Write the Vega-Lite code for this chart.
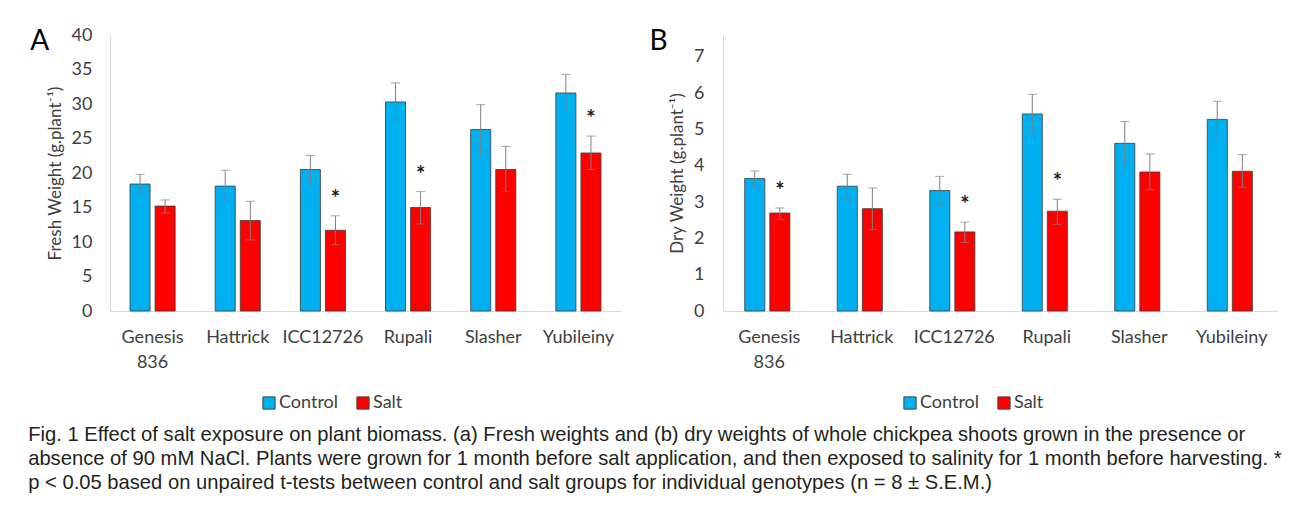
{
  "$schema": "https://vega.github.io/schema/vega-lite/v6.json",
  "padding": {"left": 28, "top": 26, "right": 5, "bottom": 0},
  "background": "white",
  "config": {
    "view": {"stroke": null},
    "font": "Lato",
    "axis": {
      "labelFont": "Lato",
      "labelColor": "#404040",
      "titleFont": "Lato",
      "titleColor": "#404040",
      "titleFontWeight": "normal",
      "domainColor": "#d9d9d9",
      "domainWidth": 1,
      "ticks": false,
      "grid": false,
      "labelOverlap": false
    },
    "legend": {
      "labelFont": "Lato",
      "labelColor": "#404040",
      "labelFontSize": 18,
      "symbolType": "square",
      "symbolSize": 150,
      "symbolStrokeColor": "#404040",
      "symbolStrokeWidth": 1,
      "labelOffset": 1,
      "columnPadding": 15
    }
  },
  "datasets": {
    "fresh": [
      {"genotype": "Genesis 836", "treatment": "Control", "mean": 18.4, "lo": 17.0, "hi": 19.8, "sig": ""},
      {"genotype": "Genesis 836", "treatment": "Salt", "mean": 15.2, "lo": 14.2, "hi": 16.1, "sig": ""},
      {"genotype": "Hattrick", "treatment": "Control", "mean": 18.1, "lo": 15.9, "hi": 20.4, "sig": ""},
      {"genotype": "Hattrick", "treatment": "Salt", "mean": 13.1, "lo": 10.3, "hi": 15.9, "sig": ""},
      {"genotype": "ICC12726", "treatment": "Control", "mean": 20.5, "lo": 18.45, "hi": 22.55, "sig": ""},
      {"genotype": "ICC12726", "treatment": "Salt", "mean": 11.7, "lo": 9.6, "hi": 13.8, "sig": "*"},
      {"genotype": "Rupali", "treatment": "Control", "mean": 30.3, "lo": 27.8, "hi": 33.05, "sig": ""},
      {"genotype": "Rupali", "treatment": "Salt", "mean": 15.0, "lo": 12.6, "hi": 17.3, "sig": "*"},
      {"genotype": "Slasher", "treatment": "Control", "mean": 26.3, "lo": 22.6, "hi": 29.9, "sig": ""},
      {"genotype": "Slasher", "treatment": "Salt", "mean": 20.5, "lo": 17.3, "hi": 23.85, "sig": ""},
      {"genotype": "Yubileiny", "treatment": "Control", "mean": 31.6, "lo": 28.9, "hi": 34.3, "sig": ""},
      {"genotype": "Yubileiny", "treatment": "Salt", "mean": 22.9, "lo": 20.5, "hi": 25.35, "sig": "*"}
    ],
    "dry": [
      {"genotype": "Genesis 836", "treatment": "Control", "mean": 3.65, "lo": 3.41, "hi": 3.86, "sig": ""},
      {"genotype": "Genesis 836", "treatment": "Salt", "mean": 2.70, "lo": 2.52, "hi": 2.84, "sig": "*"},
      {"genotype": "Hattrick", "treatment": "Control", "mean": 3.44, "lo": 3.09, "hi": 3.77, "sig": ""},
      {"genotype": "Hattrick", "treatment": "Salt", "mean": 2.82, "lo": 2.25, "hi": 3.39, "sig": ""},
      {"genotype": "ICC12726", "treatment": "Control", "mean": 3.32, "lo": 2.94, "hi": 3.71, "sig": ""},
      {"genotype": "ICC12726", "treatment": "Salt", "mean": 2.18, "lo": 1.89, "hi": 2.45, "sig": "*"},
      {"genotype": "Rupali", "treatment": "Control", "mean": 5.43, "lo": 4.90, "hi": 5.97, "sig": ""},
      {"genotype": "Rupali", "treatment": "Salt", "mean": 2.75, "lo": 2.39, "hi": 3.08, "sig": "*"},
      {"genotype": "Slasher", "treatment": "Control", "mean": 4.62, "lo": 4.01, "hi": 5.22, "sig": ""},
      {"genotype": "Slasher", "treatment": "Salt", "mean": 3.83, "lo": 3.34, "hi": 4.33, "sig": ""},
      {"genotype": "Yubileiny", "treatment": "Control", "mean": 5.28, "lo": 4.77, "hi": 5.78, "sig": ""},
      {"genotype": "Yubileiny", "treatment": "Salt", "mean": 3.85, "lo": 3.41, "hi": 4.31, "sig": ""}
    ]
  },
  "title": {
    "text": [
      "Fig. 1 Effect of salt exposure on plant biomass. (a) Fresh weights and (b) dry weights of whole chickpea shoots grown in the presence or",
      "absence of 90 mM NaCl. Plants were grown for 1 month before salt application, and then exposed to salinity for 1 month before harvesting. *",
      "p < 0.05 based on unpaired t-tests between control and salt groups for individual genotypes (n = 8 ± S.E.M.)"
    ],
    "orient": "bottom",
    "anchor": "start",
    "frame": "bounds",
    "font": "Liberation Sans",
    "fontSize": 20.2,
    "fontWeight": "normal",
    "color": "#231f20",
    "lineHeight": 24,
    "offset": 13,
    "dx": -2
  },
  "spacing": 28,
  "resolve": {"scale": {"color": "independent", "x": "independent", "y": "independent"}, "legend": {"color": "independent"}},
  "hconcat": [
    {
      "width": 511,
      "height": 276,
      "data": {"name": "fresh"},
      "title": {"text": "A", "orient": "left", "anchor": "end", "frame": "group", "angle": 0, "align": "left", "fontSize": 28, "fontWeight": "normal", "font": "Lato", "color": "#000000", "baseline": "alphabetic", "offset": -3, "dy": 15},
      "encoding": {
        "x": {
          "field": "genotype", "type": "nominal", "sort": null,
          "scale": {"paddingInner": 0.47, "paddingOuter": 0.235},
          "axis": {"title": null, "labelAngle": 0, "labelFontSize": 18, "labelPadding": 17, "labelLineHeight": 25, "labelExpr": "split(datum.label, ' ')"}
        },
        "xOffset": {"field": "treatment", "type": "nominal", "sort": ["Control", "Salt"], "scale": {"paddingInner": 0.2}}
      },
      "layer": [
        {
          "mark": {"type": "bar", "stroke": "#3a3a3a", "strokeWidth": 0.8},
          "encoding": {
            "y": {"field": "mean", "type": "quantitative", "scale": {"domain": [0, 40]},
              "axis": {"title": "Fresh Weight (g.plant⁻¹)", "values": [0, 5, 10, 15, 20, 25, 30, 35, 40], "labelFontSize": 18, "labelPadding": 18, "titleFontSize": 17, "titlePadding": 7}},
            "color": {"field": "treatment", "type": "nominal", "scale": {"domain": ["Control", "Salt"], "range": ["#00b0f0", "#ff0000"]},
              "legend": {"title": null, "orient": "none", "direction": "horizontal", "legendX": 150, "legendY": 359}}
          }
        },
        {
          "mark": {"type": "rule", "color": "#7f7f7f", "strokeWidth": 1},
          "encoding": {"y": {"field": "lo", "type": "quantitative", "axis": {"title": "Fresh Weight (g.plant⁻¹)", "values": [0, 5, 10, 15, 20, 25, 30, 35, 40], "labelFontSize": 18, "labelPadding": 18, "titleFontSize": 17, "titlePadding": 7}}, "y2": {"field": "hi"}}
        },
        {
          "mark": {"type": "tick", "orient": "horizontal", "color": "#7f7f7f", "thickness": 1, "size": 9},
          "encoding": {"y": {"field": "lo", "type": "quantitative", "axis": {"title": "Fresh Weight (g.plant⁻¹)", "values": [0, 5, 10, 15, 20, 25, 30, 35, 40], "labelFontSize": 18, "labelPadding": 18, "titleFontSize": 17, "titlePadding": 7}}}
        },
        {
          "mark": {"type": "tick", "orient": "horizontal", "color": "#7f7f7f", "thickness": 1, "size": 9},
          "encoding": {"y": {"field": "hi", "type": "quantitative", "axis": {"title": "Fresh Weight (g.plant⁻¹)", "values": [0, 5, 10, 15, 20, 25, 30, 35, 40], "labelFontSize": 18, "labelPadding": 18, "titleFontSize": 17, "titlePadding": 7}}}
        },
        {
          "mark": {"type": "text", "fontSize": 22, "fontWeight": "bold", "color": "#1a1a1a", "baseline": "alphabetic", "dy": -10, "font": "Lato"},
          "encoding": {"y": {"field": "hi", "type": "quantitative", "axis": {"title": "Fresh Weight (g.plant⁻¹)", "values": [0, 5, 10, 15, 20, 25, 30, 35, 40], "labelFontSize": 18, "labelPadding": 18, "titleFontSize": 17, "titlePadding": 7}}, "text": {"field": "sig"}}
        }
      ]
    },
    {
      "width": 555,
      "height": 276,
      "data": {"name": "dry"},
      "title": {"text": "B", "orient": "left", "anchor": "end", "frame": "group", "angle": 0, "align": "left", "fontSize": 28, "fontWeight": "normal", "font": "Lato", "color": "#000000", "baseline": "alphabetic", "offset": 1, "dy": 15},
      "encoding": {
        "x": {
          "field": "genotype", "type": "nominal", "sort": null,
          "scale": {"paddingInner": 0.47, "paddingOuter": 0.235},
          "axis": {"title": null, "labelAngle": 0, "labelFontSize": 18, "labelPadding": 17, "labelLineHeight": 25, "labelExpr": "split(datum.label, ' ')"}
        },
        "xOffset": {"field": "treatment", "type": "nominal", "sort": ["Control", "Salt"], "scale": {"paddingInner": 0.2}}
      },
      "layer": [
        {
          "mark": {"type": "bar", "stroke": "#3a3a3a", "strokeWidth": 0.8},
          "encoding": {
            "y": {"field": "mean", "type": "quantitative", "scale": {"domain": [0, 7.606], "nice": false},
              "axis": {"title": "Dry Weight (g.plant⁻¹)", "values": [0, 1, 2, 3, 4, 5, 6, 7], "labelFontSize": 18, "labelPadding": 19, "titleFontSize": 17, "titlePadding": 7}},
            "color": {"field": "treatment", "type": "nominal", "scale": {"domain": ["Control", "Salt"], "range": ["#00b0f0", "#ff0000"]},
              "legend": {"title": null, "orient": "none", "direction": "horizontal", "legendX": 178, "legendY": 359}}
          }
        },
        {
          "mark": {"type": "rule", "color": "#7f7f7f", "strokeWidth": 1},
          "encoding": {"y": {"field": "lo", "type": "quantitative", "axis": {"title": "Dry Weight (g.plant⁻¹)", "values": [0, 1, 2, 3, 4, 5, 6, 7], "labelFontSize": 18, "labelPadding": 19, "titleFontSize": 17, "titlePadding": 7}}, "y2": {"field": "hi"}}
        },
        {
          "mark": {"type": "tick", "orient": "horizontal", "color": "#7f7f7f", "thickness": 1, "size": 9},
          "encoding": {"y": {"field": "lo", "type": "quantitative", "axis": {"title": "Dry Weight (g.plant⁻¹)", "values": [0, 1, 2, 3, 4, 5, 6, 7], "labelFontSize": 18, "labelPadding": 19, "titleFontSize": 17, "titlePadding": 7}}}
        },
        {
          "mark": {"type": "tick", "orient": "horizontal", "color": "#7f7f7f", "thickness": 1, "size": 9},
          "encoding": {"y": {"field": "hi", "type": "quantitative", "axis": {"title": "Dry Weight (g.plant⁻¹)", "values": [0, 1, 2, 3, 4, 5, 6, 7], "labelFontSize": 18, "labelPadding": 19, "titleFontSize": 17, "titlePadding": 7}}}
        },
        {
          "mark": {"type": "text", "fontSize": 22, "fontWeight": "bold", "color": "#1a1a1a", "baseline": "alphabetic", "dy": -10, "font": "Lato"},
          "encoding": {"y": {"field": "hi", "type": "quantitative", "axis": {"title": "Dry Weight (g.plant⁻¹)", "values": [0, 1, 2, 3, 4, 5, 6, 7], "labelFontSize": 18, "labelPadding": 19, "titleFontSize": 17, "titlePadding": 7}}, "text": {"field": "sig"}}
        }
      ]
    }
  ]
}
